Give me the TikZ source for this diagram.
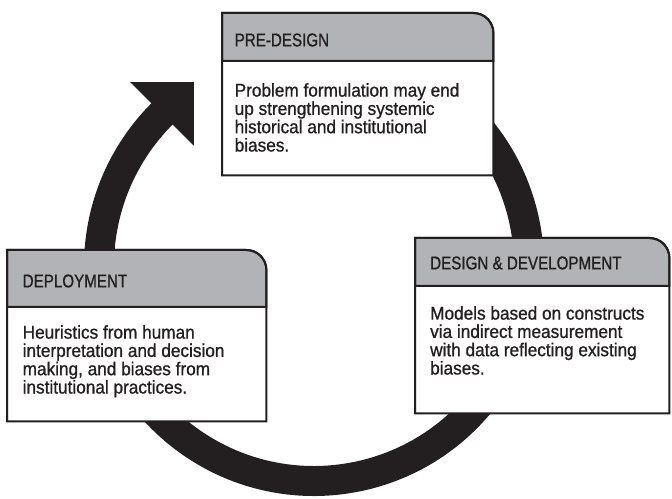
\documentclass[tikz,border=0pt]{standalone}
\usepackage{fontspec}
\setmainfont{Liberation Sans}[FakeStretch=0.93, FakeBold=0.9]
\newfontfamily\headfont{Liberation Sans}[FakeStretch=0.82, FakeBold=0.9]
\usetikzlibrary{
    arrows.meta
}
\definecolor{ink}{HTML}{231F20}
\definecolor{headgray}{HTML}{B1B3B6}
\newcommand{\stageframe}[2]{%
    \filldraw[header]
        (#1.north west)
        -- ([xshift=-20pt]#1.north east)
        arc[start angle=90, end angle=0, radius=20pt]
        -- ([yshift=-#2]#1.north east)
        -- ([yshift=-#2]#1.north west)
        -- cycle;
    \draw[outline]
        (#1.north west)
        -- ([xshift=-20pt]#1.north east)
        arc[start angle=90, end angle=0, radius=20pt]
        -- (#1.south east)
        -- (#1.south west)
        -- cycle;
}

\begin{document}
\begin{tikzpicture}[
    x=1pt,
    y=1pt,
    stage/.style={
        rectangle,
        fill=white,
        inner sep=0pt,
        anchor=north west
    },
    outline/.style={
        draw=ink,
        line width=2pt
    },
    header/.style={
        fill=headgray,
        draw=ink,
        line width=2pt
    },
    title/.style={
        anchor=west,
        inner sep=0pt,
        text=ink,
        font=\headfont\fontsize{18.5}{18.3}\selectfont
    },
    body/.style={
        anchor=north west,
        inner sep=0pt,
        align=left,
        text=ink,
        font=\fontsize{18.5}{18.3}\selectfont
    },
    ring/.style={
        draw=ink,
        line width=30pt
    }
]

\useasboundingbox (0,0) rectangle (672,498);

% cycle ring

\coordinate (hub) at (314,232);
\coordinate (headbase) at ([shift={(135:215)}]hub);

\draw[ring]
    ([shift={(55:215)}]hub)
    arc[start angle=55, end angle=-227, radius=215];

\fill[ink]
    ([shift={(135:170)}]hub) --
    ([shift={(135:260)}]hub) --
    ([shift={(45:45)}]headbase) --
    cycle;

% stages

\node[stage, minimum width=271pt, minimum height=162pt] (predesign) at (222,485) {};
\stageframe{predesign}{48pt}

\node[title] (predesigntitle) at ([xshift=12.5pt, yshift=-27pt]predesign.north west) {
    PRE-DESIGN
};

\node[body] (predesigntext) at ([xshift=12.5pt, yshift=-70pt]predesign.north west) {
    Problem formulation may end\\
    up strengthening systemic\\
    historical and institutional\\
    biases.
};

\node[stage, minimum width=254pt, minimum height=175pt] (design) at (415,260) {};
\stageframe{design}{48pt}

\node[title] (designtitle) at ([xshift=15pt, yshift=-25pt]design.north west) {
    DESIGN \& DEVELOPMENT
};

\node[body] (designtext) at ([xshift=15pt, yshift=-68pt]design.north west) {
    Models based on constructs\\
    via indirect measurement\\
    with data reflecting existing\\
    biases.
};

\node[stage, minimum width=259pt, minimum height=171pt] (deployment) at (7,248) {};
\stageframe{deployment}{57pt}

\node[title] (deploymenttitle) at ([xshift=15.5pt, yshift=-31pt]deployment.north west) {
    DEPLOYMENT
};

\node[body] (deploymenttext) at ([xshift=15.5pt, yshift=-75pt]deployment.north west) {
    Heuristics from human\\
    interpretation and decision\\
    making, and biases from\\
    institutional practices.
};

\end{tikzpicture}
\end{document}
